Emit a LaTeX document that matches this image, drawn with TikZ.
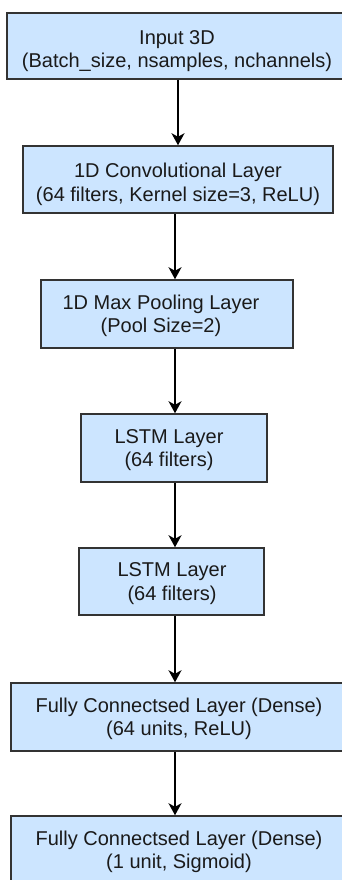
\documentclass[tikz,border=0pt]{standalone}
\usepackage{fontspec}
\setmainfont{Liberation Sans}
\usetikzlibrary{arrows.meta}
\definecolor{boxfill}{HTML}{CCE5FF}
\definecolor{boxline}{HTML}{333333}
\definecolor{inktext}{HTML}{1A1A1A}
\tikzset{
  layerbox/.style={draw=boxline, fill=boxfill, line width=1.5pt, rectangle, inner sep=0pt},
  layertext/.style={text=inktext, font=\fontsize{20}{23.5}\selectfont, align=center, inner sep=0pt},
  flow/.style={draw=black, line width=1.5pt, -{Stealth[length=12pt,width=13pt,inset=3.5pt]}},
}
\begin{document}
\begin{tikzpicture}[x=1pt,y=-1pt]
\useasboundingbox (0,0) rectangle (342,880);
\clip (0,0) rectangle (342,880);

% layer boxes
\node[layerbox, minimum width=340pt, minimum height=66pt] (b1) at (177,46) {};
\node[layerbox, minimum width=310pt, minimum height=67pt] (b2) at (178,179.5) {};
\node[layerbox, minimum width=252pt, minimum height=68pt] (b3) at (167,314) {};
\node[layerbox, minimum width=186pt, minimum height=68pt] (b4) at (174,448) {};
\node[layerbox, minimum width=185pt, minimum height=67pt] (b5) at (171.5,581.5) {};
\node[layerbox, minimum width=336pt, minimum height=68pt] (b6) at (179,717) {};
\node[layerbox, minimum width=336pt, minimum height=68pt] (b7) at (179,850) {};

% layer captions
\node[layertext] (t1) at (177,51) {Input 3D\\(Batch\_size, nsamples, nchannels)};
\node[layertext] (t2) at (178,184.5) {1D Convolutional Layer\\(64 filters, Kernel size=3, ReLU)};
\node[layertext] (t3) at (161,316) {1D Max Pooling Layer\\(Pool Size=2)};
\node[layertext] (t4) at (169,450) {LSTM Layer\\(64 filters)};
\node[layertext] (t5) at (172,583.5) {LSTM Layer\\(64 filters)};
\node[layertext] (t6) at (179,719) {Fully Connectsed Layer (Dense)\\(64 units, ReLU)};
\node[layertext] (t7) at (179,852) {Fully Connectsed Layer (Dense)\\(1 unit, Sigmoid)};

% connectors
\coordinate (a1) at (178,0);
\coordinate (ax) at (175,0);
\draw[flow] (b1.south -| a1) -- (b2.north -| a1);
\draw[flow] (b2.south -| ax) -- (b3.north -| ax);
\draw[flow] (b3.south -| ax) -- (b4.north -| ax);
\draw[flow] (b4.south -| ax) -- (b5.north -| ax);
\draw[flow] (b5.south -| ax) -- (b6.north -| ax);
\draw[flow] (b6.south -| ax) -- (b7.north -| ax);
\end{tikzpicture}
\end{document}
